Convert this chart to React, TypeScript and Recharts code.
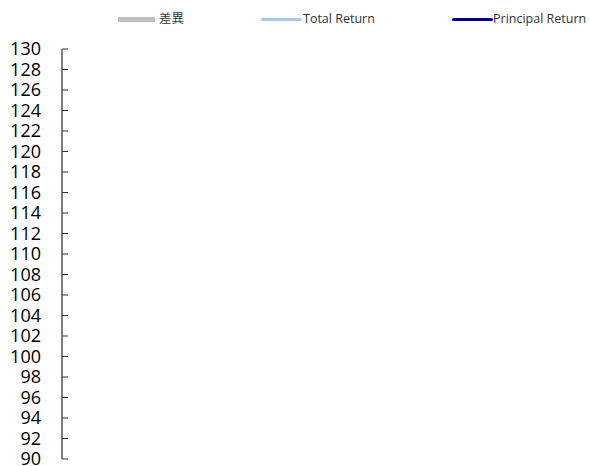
import { ComposedChart, Bar, Line, XAxis, YAxis } from 'recharts'

// the source chart has no data points drawn, only the axis and legend
const categories: string[] = []
const diffValues: (number | null)[] = []
const totalReturn: (number | null)[] = []
const principalReturn: (number | null)[] = []

const yTicks = [90, 92, 94, 96, 98, 100, 102, 104, 106, 108, 110, 112, 114, 116, 118, 120, 122, 124, 126, 128, 130]

const legendItems = [
   { name: '差異', color: '#c0c0c0', kind: 'rect', x: 118, textX: 159 },
   { name: 'Total Return', color: '#a7caee', kind: 'line', x: 261, textX: 303 },
   { name: 'Principal Return', color: '#000080', kind: 'line', x: 452, textX: 493 },
]

function ChartLegend() {
   return (
      <div style={{ position: 'absolute', left: 0, top: 0, width: 589, height: 40, fontFamily: '"Open Sans", "Noto Sans CJK JP", sans-serif', fontSize: 12.5, color: '#333' }}>
         {legendItems.map((item) => (
            <div key={item.name}>
               <div
                  style={{
                     position: 'absolute',
                     left: item.x,
                     top: item.kind === 'rect' ? 17 : 18,
                     width: item.kind === 'rect' ? 37 : 41,
                     height: item.kind === 'rect' ? 5 : 3,
                     borderRadius: item.kind === 'rect' ? 0 : 2,
                     background: item.color,
                  }}
               />
               <span style={{ position: 'absolute', left: item.textX, top: 11, lineHeight: '16px', whiteSpace: 'nowrap' }}>{item.name}</span>
            </div>
         ))}
      </div>
   )
}

export default function App() {
   const data = categories.map((c, i) => ({
      name: c,
      diff: diffValues[i],
      total: totalReturn[i],
      principal: principalReturn[i],
   }))

   return (
      <div style={{ position: 'absolute', left: 0, top: 0, width: 589, height: 466, background: '#fff' }}>
         <ComposedChart width={589} height={466} data={data} margin={{ top: 49, right: 10, left: 0, bottom: 7 }}>
            <XAxis dataKey="name" hide />
            <YAxis
               type="number"
               domain={[90, 130]}
               allowDataOverflow
               ticks={yTicks}
               interval={0}
               width={62}
               axisLine={{ stroke: '#000' }}
               tickLine={{ stroke: '#333' }}
               tickSize={-6}
               tickMargin={27}
               tick={{ fill: '#000', fontSize: 18, fontFamily: '"Open Sans", sans-serif' }}
            />
            <Bar dataKey="diff" name="差異" fill="#c0c0c0" isAnimationActive={false} />
            <Line dataKey="total" name="Total Return" stroke="#a7caee" strokeWidth={3} dot={false} isAnimationActive={false} />
            <Line dataKey="principal" name="Principal Return" stroke="#000080" strokeWidth={3} dot={false} isAnimationActive={false} />
         </ComposedChart>
         <ChartLegend />
      </div>
   )
}
